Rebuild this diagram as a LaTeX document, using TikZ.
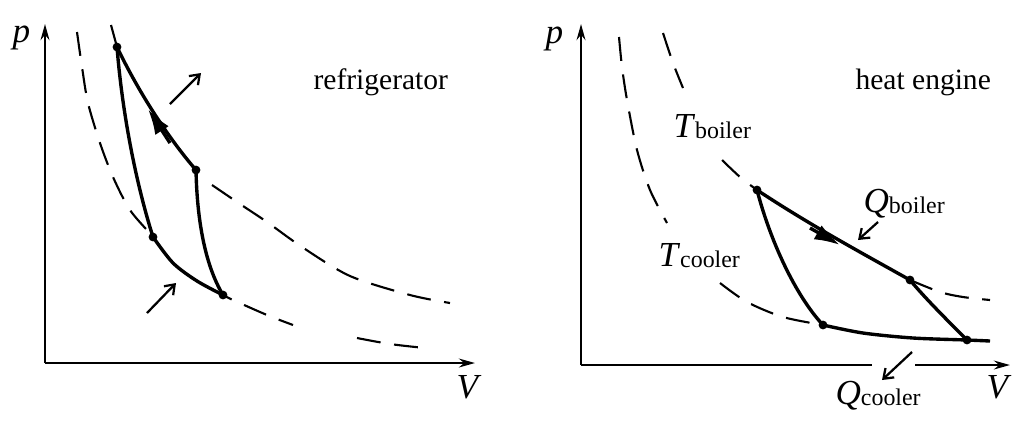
\documentclass[tikz,border=0pt]{standalone}
\usepackage{fontspec}
\setmainfont{Liberation Serif}
\usepackage{tikz}
\usetikzlibrary{arrows.meta}
\newcommand{\qlab}[2]{\fontsize{12.5}{14}\selectfont\textit{#1}\raisebox{-0.7pt}{\fontsize{8.5}{10}\selectfont #2}}

\begin{document}
\begin{tikzpicture}[
  x=0.125mm,
  y=-0.125mm,
  axis/.style={line width=0.9pt, -{Stealth[length=2mm,width=1.1mm]}},
  axisline/.style={line width=0.9pt},
  iso/.style={line width=0.75pt, dash pattern=on 3mm off 1.7mm},
  cycleline/.style={line width=1.2pt, line join=round},
  flow/.style={line width=1.2pt, -{Latex[length=3.2mm,width=2mm]}},
  heat/.style={line width=0.8pt, -{Straight Barb[length=1.1mm,width=1.6mm]}},
  dot/.style={fill=black},
  lbl/.style={inner sep=0pt, anchor=base west},
  title/.style={inner sep=0pt, anchor=base west, font=\fontsize{10.5}{12}\selectfont},
]
\useasboundingbox (0,0) rectangle (1035,420);

% refrigerator
\coordinate (ro) at (45,363);
\coordinate (rp) at (45,24);
\coordinate (rv) at (475,363);
\draw[axis] (ro) -- (rp);
\draw[axis] (ro) -- (rv);
\node[lbl] (rplab) at (12,42) {\fontsize{12.5}{14}\selectfont\textit{p}};
\node[lbl] (rvlab) at (456,398) {\fontsize{12.5}{14}\selectfont\textit{V}};
\node[title] (rtitle) at (313,89) {refrigerator};

\coordinate (ra) at (117,47);
\coordinate (rb) at (196,170);
\coordinate (rc) at (223,295);
\coordinate (rd) at (153,237);

\draw[iso] (111,25) -- (ra);
\draw[iso] plot[smooth] coordinates {(212,185) (240,204) (267,222) (302,247) (350,276) (410,295) (450,303)};
\draw[iso] plot[smooth] coordinates {(77,32) (82,67) (88,103) (100,143) (113,177) (130,210) (153,237) (173,263) (197,281) (223,295) (233,300) (267,315) (293,325)};
\draw[iso] plot[smooth] coordinates {(357,338) (390,344) (425,348)};

\draw[cycleline] (ra) .. controls (140,95) and (170,140) .. (rb);
\draw[cycleline] (rb) .. controls (197,220) and (205,265) .. (rc);
\draw[cycleline] plot[smooth] coordinates {(223,295) (197,281) (173,263) (153,237)};
\draw[cycleline] (rd) .. controls (135,180) and (122,110) .. (ra);
\draw[flow] (170,143) -- (148,109);
\foreach \pt in {ra,rb,rc,rd}
  \fill[dot] (\pt) circle[radius=0.55mm];

\coordinate (rhot0) at (170,104);
\coordinate (rhot1) at (201,73);
\coordinate (rcold0) at (147,313);
\coordinate (rcold1) at (176,283);
\draw[heat] (rhot0) -- (rhot1);
\draw[heat] (rcold0) -- (rcold1);

% heat engine
\coordinate (eo) at (581,365);
\coordinate (ep) at (581,24);
\coordinate (ev) at (1010,365);
\coordinate (egap0) at (872,365);
\coordinate (egap1) at (915,365);
\draw[axis] (eo) -- (ep);
\draw[axisline] (eo) -- (egap0);
\draw[axis] (egap1) -- (ev);
\node[lbl] (eplab) at (545,43) {\fontsize{12.5}{14}\selectfont\textit{p}};
\node[lbl] (evlab) at (986,398) {\fontsize{12.5}{14}\selectfont\textit{V}};
\node[title] (etitle) at (855,89) {heat engine};

\coordinate (ea) at (757,190);
\coordinate (eb) at (910,280);
\coordinate (ec) at (967,340);
\coordinate (ed) at (823,325);

\draw[iso] plot[smooth] coordinates {(619,37) (622,67) (627,100) (637,150) (650,190) (667,223)};
\draw[iso] plot[smooth] coordinates {(720,283) (747,302) (783,317) (823,325)};
\draw[iso] plot[smooth] coordinates {(663,33) (673,63) (683,88)};
\draw[iso] plot[smooth] coordinates {(722,160) (740,177) (757,190)};
\draw[iso] plot[smooth] coordinates {(910,280) (940,292) (963,297) (990,300)};

\draw[cycleline] (ea) .. controls (810,225) and (860,252) .. (eb);
\draw[cycleline] (eb) .. controls (925,298) and (945,318) .. (ec);
\draw[cycleline] plot[smooth] coordinates {(823,325) (863,333) (913,338) (967,340) (990,341)};
\draw[cycleline] (ea) .. controls (770,240) and (795,295) .. (ed);
\draw[flow] (810,228) -- (840,245);
\foreach \pt in {ea,eb,ec,ed}
  \fill[dot] (\pt) circle[radius=0.55mm];

\node[lbl] (tboiler) at (673,137) {\qlab{T}{boiler}};
\node[lbl] (tcooler) at (658,266) {\qlab{T}{cooler}};
\node[lbl] (qboiler) at (863,212) {\qlab{Q}{boiler}};
\node[lbl] (qcooler) at (835,404) {\qlab{Q}{cooler}};

\coordinate (ehot0) at (878,222);
\coordinate (ehot1) at (858,240);
\coordinate (ecold0) at (912,352);
\coordinate (ecold1) at (882,380);
\draw[heat] (ehot0) -- (ehot1);
\draw[heat] (ecold0) -- (ecold1);
\end{tikzpicture}
\end{document}
